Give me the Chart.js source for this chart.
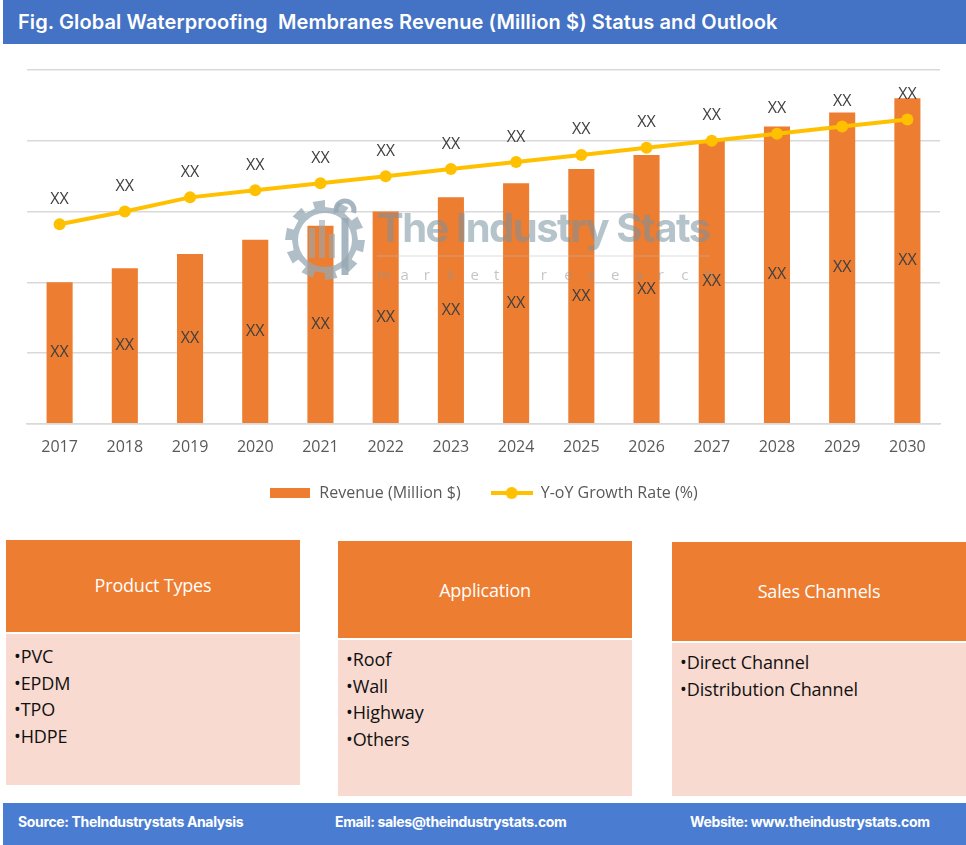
<!DOCTYPE html>
<html>
<head>
<meta charset="utf-8">
<script src="https://cdn.jsdelivr.net/npm/chart.js@4.4.1/dist/chart.umd.min.js"></script>
<style>
  body { margin: 0; width: 966px; height: 845px; position: relative; background: #fff; font-family: "Open Sans", sans-serif; overflow: hidden; }
  .title { position: absolute; left: 3px; top: 0; width: 963px; height: 44px; background: #4472c4; color: #fff;
    font-family: Inter, "Open Sans", sans-serif; font-weight: 600; font-size: 20px; line-height: 44px; padding-left: 15px; box-sizing: border-box; letter-spacing: 0.1px; }
  #chartWrap { position: absolute; left: 0; top: 50px; line-height: 0; }
  .box { position: absolute; }
  .box .head { background: #ed7d31; color: #fff; font-family: "Open Sans", sans-serif; font-size: 18px; display: flex; align-items: center; justify-content: center; letter-spacing: -0.2px; }
  .box .body { background: #f8dad0; margin-top: 2px; padding: 6px 8px; box-sizing: border-box; font-size: 18px; color: #111; letter-spacing: -0.1px; }
  .box .body div { height: 26.5px; line-height: 26.5px; }
  .footer { position: absolute; left: 3px; top: 803px; width: 963px; height: 42px; background: #4a7dd1; color: #fff;
    font-family: Inter, "Open Sans", sans-serif; font-weight: 700; font-size: 14px; letter-spacing: -0.35px; }
  .footer span { position: absolute; top: 10px; }
</style>
</head>
<body>
<div class="title">Fig. Global Waterproofing&nbsp; Membranes Revenue (Million $) Status and Outlook</div>
<div id="chartWrap"><canvas id="chart" width="966" height="461"></canvas></div>

<div class="box" style="left:6px; top:540px; width:294px;">
  <div class="head" style="height:92px; padding-bottom:3px; box-sizing:border-box;">Product Types</div>
  <div class="body" style="height:151px; padding-top:9px;" id="list1"></div>
</div>
<div class="box" style="left:338px; top:541px; width:294px;">
  <div class="head" style="height:97px;">Application</div>
  <div class="body" style="height:156px;" id="list2"></div>
</div>
<div class="box" style="left:672px; top:542px; width:294px;">
  <div class="head" style="height:99px; padding-bottom:1px; box-sizing:border-box;">Sales Channels</div>
  <div class="body" style="height:153px;" id="list3"></div>
</div>

<div class="footer">
  <span style="left:15px;">Source: TheIndustrystats Analysis</span>
  <span style="left:332px;">Email: sales@theindustrystats.com</span>
  <span style="left:687px;">Website: www.theindustrystats.com</span>
</div>

<script>
const years = ["2017", "2018", "2019", "2020", "2021", "2022", "2023", "2024", "2025", "2026", "2027", "2028", "2029", "2030"];
const revenue = [2.0, 2.2, 2.4, 2.6, 2.8, 3.0, 3.2, 3.4, 3.6, 3.8, 4.0, 4.2, 4.4, 4.6];
const growth = [2.82, 3.0, 3.2, 3.3, 3.4, 3.5, 3.6, 3.7, 3.8, 3.9, 4.0, 4.1, 4.2, 4.3];
const barLabels = ["XX", "XX", "XX", "XX", "XX", "XX", "XX", "XX", "XX", "XX", "XX", "XX", "XX", "XX"];
const lineLabels = ["XX", "XX", "XX", "XX", "XX", "XX", "XX", "XX", "XX", "XX", "XX", "XX", "XX", "XX"];

const productTypes = ["PVC", "EPDM", "TPO", "HDPE"];
const applications = ["Roof", "Wall", "Highway", "Others"];
const salesChannels = ["Direct Channel", "Distribution Channel"];

function fillList(id, items) {
  const el = document.getElementById(id);
  items.forEach((t) => {
    const d = document.createElement("div");
    d.textContent = "\u2022" + t;
    el.appendChild(d);
  });
}
fillList("list1", productTypes);
fillList("list2", applications);
fillList("list3", salesChannels);

// legend markers
function barMarker() {
  const c = document.createElement("canvas");
  c.width = 40; c.height = 10;
  const g = c.getContext("2d");
  g.fillStyle = "#ed7d31";
  g.fillRect(0, 0, 40, 10);
  return c;
}
function lineMarker() {
  const c = document.createElement("canvas");
  c.width = 42; c.height = 14;
  const g = c.getContext("2d");
  g.strokeStyle = "#ffc000";
  g.lineWidth = 4;
  g.beginPath(); g.moveTo(0, 7); g.lineTo(42, 7); g.stroke();
  g.fillStyle = "#ffc000";
  g.beginPath(); g.arc(21, 7, 6, 0, Math.PI * 2); g.fill();
  return c;
}
const legendMarkers = [barMarker(), lineMarker()];

function drawGear(ctx, cx, cy) {
  ctx.save();
  ctx.fillStyle = "rgba(150,168,180,0.75)";
  const teeth = 10, rOut = 40, rIn = 33;
  ctx.beginPath();
  for (let i = 0; i < teeth * 2; i++) {
    const a0 = (i / (teeth * 2)) * Math.PI * 2;
    const a1 = ((i + 1) / (teeth * 2)) * Math.PI * 2;
    const r = i % 2 === 0 ? rOut : rIn;
    ctx.lineTo(cx + r * Math.cos(a0), cy + r * Math.sin(a0));
    ctx.lineTo(cx + r * Math.cos(a1), cy + r * Math.sin(a1));
  }
  ctx.closePath();
  ctx.arc(cx, cy, 27, 0, Math.PI * 2, true);
  ctx.fill("evenodd");
  // small bars inside
  ctx.fillStyle = "rgba(150,168,180,0.6)";
  ctx.fillRect(cx - 16, cy - 12, 6, 30);
  ctx.fillRect(cx - 6, cy - 20, 6, 38);
  ctx.fillRect(cx + 4, cy - 6, 6, 24);
  // wrench
  ctx.strokeStyle = "rgba(150,168,180,0.85)";
  ctx.lineWidth = 7;
  ctx.beginPath(); ctx.moveTo(cx + 20, cy - 22); ctx.lineTo(cx + 20, cy + 35); ctx.stroke();
  ctx.lineWidth = 5;
  ctx.beginPath(); ctx.arc(cx + 20, cy - 30, 9, Math.PI * 0.1, Math.PI * 0.9, true); ctx.stroke();
  ctx.restore();
}

const overlayPlugin = {
  id: "overlay",
  afterDatasetsDraw(chart) {
    const ctx = chart.ctx;
    // watermark
    ctx.save();
    drawGear(ctx, 325, 190);
    ctx.font = "bold 40px Inter, 'Open Sans', sans-serif";
    ctx.letterSpacing = "-1.5px";
    ctx.fillStyle = "rgba(120,145,160,0.55)";
    ctx.textAlign = "left";
    ctx.textBaseline = "alphabetic";
    ctx.fillText("The Industry Stats", 377, 192);
    ctx.letterSpacing = "0px";
    ctx.strokeStyle = "rgba(190,190,190,0.5)";
    ctx.lineWidth = 1;
    ctx.beginPath(); ctx.moveTo(377, 206); ctx.lineTo(710, 206); ctx.stroke();
    ctx.font = "15px 'Open Sans', sans-serif";
    ctx.fillStyle = "rgba(150,150,150,0.55)";
    "market research".split("").forEach((ch, i) => {
      ctx.fillText(ch, 377 + i * 23.4, 230);
    });
    ctx.restore();

    // data labels
    ctx.save();
    ctx.font = "16px 'Open Sans', sans-serif";
    ctx.fillStyle = "#404040";
    ctx.textAlign = "center";
    ctx.textBaseline = "middle";
    chart.getDatasetMeta(0).data.forEach((bar, i) => {
      ctx.fillText(barLabels[i], bar.x, (bar.y + bar.base) / 2);
    });
    chart.getDatasetMeta(1).data.forEach((pt, i) => {
      ctx.fillText(lineLabels[i], pt.x, pt.y - 25);
    });
    ctx.restore();
  },
};

const ctx = document.getElementById("chart").getContext("2d");
new Chart(ctx, {
  type: "bar",
  data: {
    labels: years,
    datasets: [
      {
        type: "bar",
        label: "Revenue (Million $)",
        data: revenue,
        backgroundColor: "#ed7d31",
        borderWidth: 0,
        barPercentage: 0.8,
        categoryPercentage: 0.5,
        order: 2,
      },
      {
        type: "line",
        label: "Y-oY Growth Rate (%)",
        data: growth,
        borderColor: "#ffc000",
        backgroundColor: "#ffc000",
        borderWidth: 4,
        pointStyle: "circle",
        pointRadius: 6,
        pointHoverRadius: 6,
        pointBackgroundColor: "#ffc000",
        pointBorderWidth: 0,
        order: 1,
      },
    ],
  },
  options: {
    responsive: false,
    animation: false,
    layout: { padding: { top: 20, left: 27, right: 26, bottom: 0 } },
    plugins: {
      tooltip: { enabled: false },
      legend: {
        position: "bottom",
        labels: {
          usePointStyle: true,
          pointStyleWidth: 42,
          padding: 30,
          color: "#595959",
          font: { family: "'Open Sans', sans-serif", size: 16 },
          generateLabels(chart) {
            return chart.data.datasets.map((ds, i) => ({
              text: ds.label,
              pointStyle: legendMarkers[i],
              fillStyle: ds.backgroundColor,
              strokeStyle: ds.backgroundColor,
              lineWidth: 0,
              hidden: false,
              datasetIndex: i,
              fontColor: "#595959",
            }));
          },
        },
      },
    },
    scales: {
      x: {
        grid: { display: false, drawTicks: false },
        border: { display: true, color: "#d9d9d9", width: 1.5 },
        ticks: { color: "#595959", padding: 14, font: { family: "'Open Sans', sans-serif", size: 16 } },
        afterFit(scale) { scale.height -= 16; },
      },
      y: {
        min: 0,
        max: 5,
        grid: { color: "#d9d9d9", lineWidth: 1.5, drawTicks: false },
        border: { display: false },
        ticks: { display: false, stepSize: 1 },
      },
    },
  },
  plugins: [overlayPlugin],
});
</script>
</body>
</html>
